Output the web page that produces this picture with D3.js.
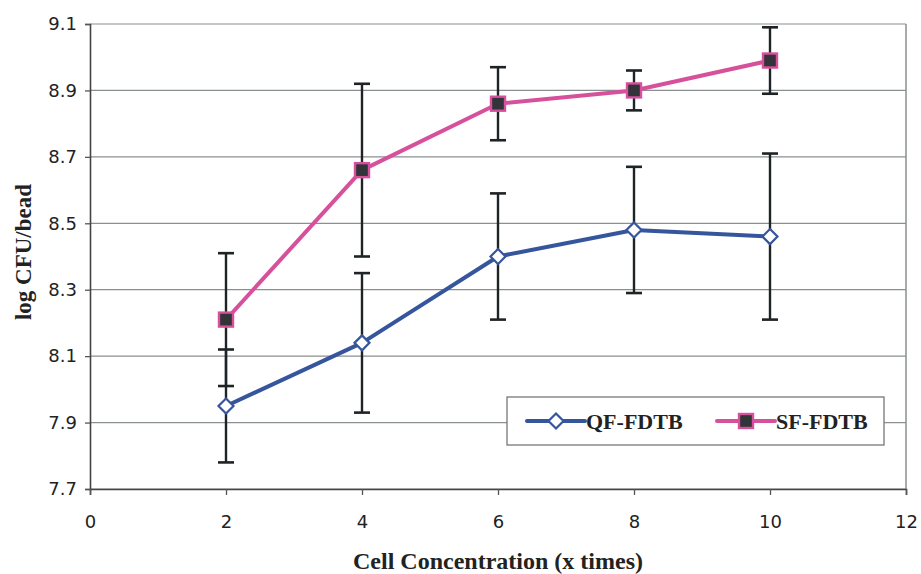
<!DOCTYPE html>
<html><head><meta charset="utf-8">
<script src="https://cdn.jsdelivr.net/npm/d3@7"></script>
<style>body{margin:0;background:#fff}svg{display:block}</style>
</head><body>
<svg id="c" width="921" height="574"></svg>
<script>
const xValues = [2, 4, 6, 8, 10];
const qfMean = [7.95, 8.14, 8.40, 8.48, 8.46];
const qfErr  = [0.17, 0.21, 0.19, 0.19, 0.25];
const sfMean = [8.21, 8.66, 8.86, 8.90, 8.99];
const sfErr  = [0.20, 0.26, 0.11, 0.06, 0.10];
const xTicks = [0, 2, 4, 6, 8, 10, 12];
const yTicks = [7.7, 7.9, 8.1, 8.3, 8.5, 8.7, 8.9, 9.1];
const seriesNames = ["QF-FDTB", "SF-FDTB"];

const svg = d3.select("#c");
const L = 90, R = 906, T = 24, B = 489;
const x = d3.scaleLinear().domain([0, 12]).range([L, R]);
const y = d3.scaleLinear().domain([7.7, 9.1]).range([B, T]);

// gridlines
svg.append("g").selectAll("line").data(yTicks).join("line")
  .attr("x1", L).attr("x2", R).attr("y1", d => y(d)).attr("y2", d => y(d))
  .attr("stroke", "#8a8f90").attr("stroke-width", 1.2);
// right border
svg.append("line").attr("x1", R).attr("x2", R).attr("y1", T).attr("y2", B)
  .attr("stroke", "#8a8f90").attr("stroke-width", 1.5);

// axes
const yAxis = svg.append("g").attr("transform", `translate(${L},0)`)
  .call(d3.axisLeft(y).tickValues(yTicks).tickFormat(d3.format(".1f")).tickSize(5).tickPadding(8));
const xAxis = svg.append("g").attr("transform", `translate(0,${B})`)
  .call(d3.axisBottom(x).tickValues(xTicks).tickSize(6).tickPadding(20));
[yAxis, xAxis].forEach(a => {
  a.select(".domain").attr("stroke", "#444").attr("stroke-width", 1.6);
  a.selectAll(".tick line").attr("stroke", "#555").attr("stroke-width", 1.3);
  a.selectAll("text").attr("font-family", "DejaVu Sans, Verdana, sans-serif")
    .attr("font-size", 18).attr("fill", "#222");
});

// axis titles
svg.append("text").attr("x", x(6)).attr("y", 569).attr("text-anchor", "middle")
  .attr("font-family", "Liberation Serif, Times New Roman, serif").attr("font-weight", "bold")
  .attr("font-size", 24).attr("fill", "#222").text("Cell Concentration (x times)");
svg.append("text").attr("transform", `translate(31,252) rotate(-90)`)
  .attr("text-anchor", "middle")
  .attr("font-family", "Liberation Serif, Times New Roman, serif").attr("font-weight", "bold")
  .attr("font-size", 23).attr("fill", "#222").text("log CFU/bead");

const blue = "#35559c", pink = "#d6509c";
const line = d3.line().x(d => x(d[0])).y(d => y(d[1]));

function drawSeries(means, errs, color, marker) {
  const pts = xValues.map((v, i) => [v, means[i], errs[i]]);
  const g = svg.append("g");
  // error bars
  const eb = g.selectAll("g.eb").data(pts).join("g");
  eb.append("line").attr("x1", d => x(d[0])).attr("x2", d => x(d[0]))
    .attr("y1", d => y(d[1] - d[2])).attr("y2", d => y(d[1] + d[2]))
    .attr("stroke", "#1e2426").attr("stroke-width", 2.4);
  [-1, 1].forEach(s => {
    eb.append("line").attr("x1", d => x(d[0]) - 8).attr("x2", d => x(d[0]) + 8)
      .attr("y1", d => y(d[1] + s * d[2])).attr("y2", d => y(d[1] + s * d[2]))
      .attr("stroke", "#1e2426").attr("stroke-width", 2.6);
  });
  g.append("path").datum(pts).attr("d", line).attr("fill", "none")
    .attr("stroke", color).attr("stroke-width", 4).attr("stroke-linejoin", "round");
  g.selectAll("g.m").data(pts).join("g")
    .attr("transform", d => `translate(${x(d[0])},${y(d[1])})`)
    .each(function () { marker(d3.select(this)); });
}

const diamond = sel => sel.append("path").attr("d", "M0,-7.5L7.5,0L0,7.5L-7.5,0Z")
  .attr("fill", "#fff").attr("stroke", blue).attr("stroke-width", 2.2);
const square = sel => sel.append("rect").attr("x", -7).attr("y", -7).attr("width", 14).attr("height", 14)
  .attr("fill", "#33333a").attr("stroke", pink).attr("stroke-width", 2.4);

drawSeries(qfMean, qfErr, blue, diamond);
drawSeries(sfMean, sfErr, pink, square);

// legend
const lg = svg.append("g");
lg.append("rect").attr("x", 507).attr("y", 397).attr("width", 377).attr("height", 48)
  .attr("fill", "#fff").attr("stroke", "#777").attr("stroke-width", 1.3);
const items = [
  { name: seriesNames[0], color: blue, marker: diamond, x0: 527 },
  { name: seriesNames[1], color: pink, marker: square, x0: 717 }
];
items.forEach(it => {
  const cy = 421;
  lg.append("line").attr("x1", it.x0).attr("x2", it.x0 + 58).attr("y1", cy).attr("y2", cy)
    .attr("stroke", it.color).attr("stroke-width", 4).attr("stroke-linecap", "round");
  const m = lg.append("g").attr("transform", `translate(${it.x0 + 29},${cy})`);
  it.marker(m);
  lg.append("text").attr("x", it.x0 + 59).attr("y", cy + 8)
    .attr("font-family", "Liberation Serif, Times New Roman, serif").attr("font-weight", "bold")
    .attr("font-size", 22).attr("fill", "#222").text(it.name);
});
</script>
</body></html>
